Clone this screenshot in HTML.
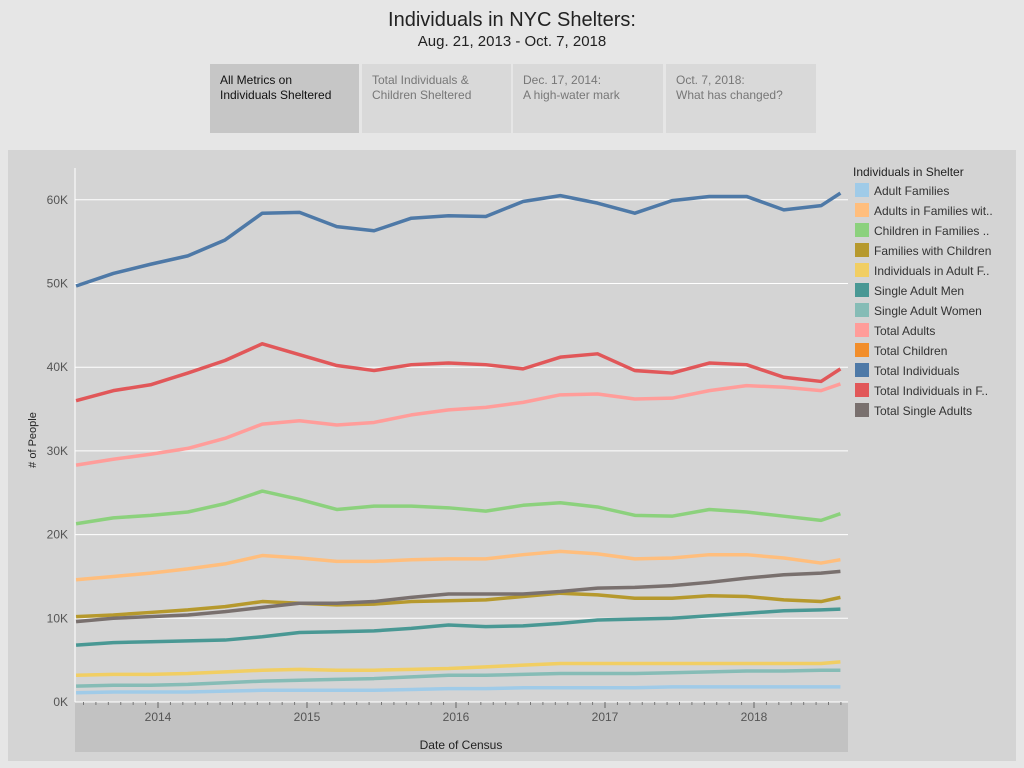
<!DOCTYPE html>
<html><head><meta charset="utf-8"><style>
body{margin:0;width:1024px;height:768px;background:#e6e6e6;font-family:"Liberation Sans",Arial,sans-serif;overflow:hidden;position:relative}
.t{position:absolute;text-align:center;width:1024px;color:#222}
.tab{position:absolute;top:64px;height:69px;background:#d9d9d9;font-size:12px;color:#777;box-sizing:border-box;padding:9px 0 0 10px;line-height:15px}
</style></head><body>
<div class="t" style="top:9px;font-size:20px">Individuals in NYC Shelters:</div>
<div class="t" style="top:33px;font-size:15px">Aug. 21, 2013 - Oct. 7, 2018</div>
<div class="tab" style="left:210px;width:149px;background:#c6c6c6;color:#111">All Metrics on<br>Individuals Sheltered</div>
<div class="tab" style="left:362px;width:149px">Total Individuals &amp;<br>Children Sheltered</div>
<div class="tab" style="left:513px;width:150px">Dec. 17, 2014:<br>A high-water mark</div>
<div class="tab" style="left:666px;width:150px">Oct. 7, 2018:<br>What has changed?</div>
<svg id="c" width="1024" height="768" style="position:absolute;left:0;top:0"></svg>
<script>
const dates=[2013.45,2013.7,2013.95,2014.2,2014.45,2014.7,2014.95,2015.2,2015.45,2015.7,2015.95,2016.2,2016.45,2016.7,2016.95,2017.2,2017.45,2017.7,2017.95,2018.2,2018.45,2018.58];
const seriesNames=["Adult Families","Adults in Families wit..","Children in Families ..","Families with Children","Individuals in Adult F..","Single Adult Men","Single Adult Women","Total Adults","Total Children","Total Individuals","Total Individuals in F..","Total Single Adults"];
const seriesColors=["#a0cbe8","#ffbe7d","#8cd17d","#b6992d","#f1ce63","#499894","#86bcb6","#ff9d9a","#f28e2b","#4e79a7","#e15759","#79706e"];
const adultFamilies=[1.1,1.2,1.2,1.2,1.3,1.4,1.4,1.4,1.4,1.5,1.6,1.6,1.7,1.7,1.7,1.7,1.8,1.8,1.8,1.8,1.8,1.8];
const adultsInFamilies=[14.6,15.0,15.4,15.9,16.5,17.5,17.2,16.8,16.8,17.0,17.1,17.1,17.6,18.0,17.7,17.1,17.2,17.6,17.6,17.2,16.6,17.0];
const childrenInFamilies=[21.3,22.0,22.3,22.7,23.7,25.2,24.2,23.0,23.4,23.4,23.2,22.8,23.5,23.8,23.3,22.3,22.2,23.0,22.7,22.2,21.7,22.5];
const familiesWithChildren=[10.2,10.4,10.7,11.0,11.4,12.0,11.8,11.6,11.7,12.0,12.1,12.2,12.6,13.0,12.8,12.4,12.4,12.7,12.6,12.2,12.0,12.5];
const individualsAdultFamilies=[3.2,3.3,3.3,3.4,3.6,3.8,3.9,3.8,3.8,3.9,4.0,4.2,4.4,4.6,4.6,4.6,4.6,4.6,4.6,4.6,4.6,4.8];
const singleAdultMen=[6.8,7.1,7.2,7.3,7.4,7.8,8.3,8.4,8.5,8.8,9.2,9.0,9.1,9.4,9.8,9.9,10.0,10.3,10.6,10.9,11.0,11.1];
const singleAdultWomen=[1.9,2.0,2.0,2.1,2.3,2.5,2.6,2.7,2.8,3.0,3.2,3.2,3.3,3.4,3.4,3.4,3.5,3.6,3.7,3.7,3.8,3.8];
const totalAdults=[28.3,29.0,29.6,30.3,31.5,33.2,33.6,33.1,33.4,34.3,34.9,35.2,35.8,36.7,36.8,36.2,36.3,37.2,37.8,37.6,37.2,38.0];
const totalChildren=[];
const totalIndividuals=[49.7,51.2,52.3,53.3,55.2,58.4,58.5,56.8,56.3,57.8,58.1,58.0,59.8,60.5,59.6,58.4,59.9,60.4,60.4,58.8,59.3,60.8];
const totalIndividualsFamilies=[36.0,37.2,37.9,39.3,40.8,42.8,41.5,40.2,39.6,40.3,40.5,40.3,39.8,41.2,41.6,39.6,39.3,40.5,40.3,38.8,38.3,39.8];
const totalSingleAdults=[9.6,10.0,10.2,10.4,10.8,11.3,11.8,11.8,12.0,12.5,12.9,12.9,12.9,13.2,13.6,13.7,13.9,14.3,14.8,15.2,15.4,15.6];
const yTicks=[0,10,20,30,40,50,60];
const xTicks=[2014,2015,2016,2017,2018];
const allSeries=[adultFamilies,adultsInFamilies,childrenInFamilies,familiesWithChildren,individualsAdultFamilies,singleAdultMen,singleAdultWomen,totalAdults,totalChildren,totalIndividuals,totalIndividualsFamilies,totalSingleAdults];
const X=d=>158+(d-2014)*149, Y=v=>702-v*8.37;
const s=document.getElementById('c'),NS='http://www.w3.org/2000/svg';
function mk(t,a,p){const e=document.createElementNS(NS,t);for(const k in a)e.setAttribute(k,a[k]);(p||s).appendChild(e);return e;}
let e;
e=mk('rect',{x:8,y:150,width:1008,height:611,fill:'#d4d4d4'});


e=mk('rect',{x:75,y:702,width:773,height:50,fill:'#c2c2c2'});


yTicks.forEach(v=>{
 e=mk('line',{x1:75,x2:848,y1:Y(v),y2:Y(v),stroke:'#fff','stroke-width':1});
 
 
 e=mk('text',{x:68,y:Y(v)+4,'text-anchor':'end','font-size':12,fill:'#555'});
 e.textContent=v+'K';
 
 
});
e=mk('line',{x1:75,x2:75,y1:168,y2:702,stroke:'#fff'});


for(let m=0;m<62;m++){const d=2013.5+m/12;const x=X(d);if(x<76||x>846)continue;
 e=mk('line',{x1:x,x2:x,y1:702,y2:705,stroke:'#777'});
 
 }
xTicks.forEach(t=>{
 e=mk('line',{x1:X(t),x2:X(t),y1:702,y2:708,stroke:'#666'});
 
 
 e=mk('text',{x:X(t),y:721,'text-anchor':'middle','font-size':12,fill:'#555'});
 e.textContent=t;
 
 
});
e=mk('text',{x:461,y:749,'text-anchor':'middle','font-size':12,fill:'#222'});
e.textContent='Date of Census';


e=mk('text',{x:36,y:440,'text-anchor':'middle','font-size':11,fill:'#222',transform:'rotate(-90 36 440)'});
e.textContent='# of People';


allSeries.forEach((arr,i)=>{
 if(!arr.length)return;
 e=mk('polyline',{points:arr.map((v,j)=>X(dates[j])+','+Y(v)).join(' '),fill:'none',stroke:seriesColors[i],'stroke-width':3.5,'stroke-linejoin':'round'});
 
 
});
e=mk('text',{x:853,y:176,'font-size':12,fill:'#222'});
e.textContent='Individuals in Shelter';


seriesNames.forEach((n,i)=>{
 const g=mk('g',{});
 
 
 mk('rect',{x:855,y:183+i*20,width:14,height:14,fill:seriesColors[i]},g);
 const t=mk('text',{x:874,y:195+i*20,'font-size':12,fill:'#333'},g);
 t.textContent=n;
});
</script>
</body></html>
